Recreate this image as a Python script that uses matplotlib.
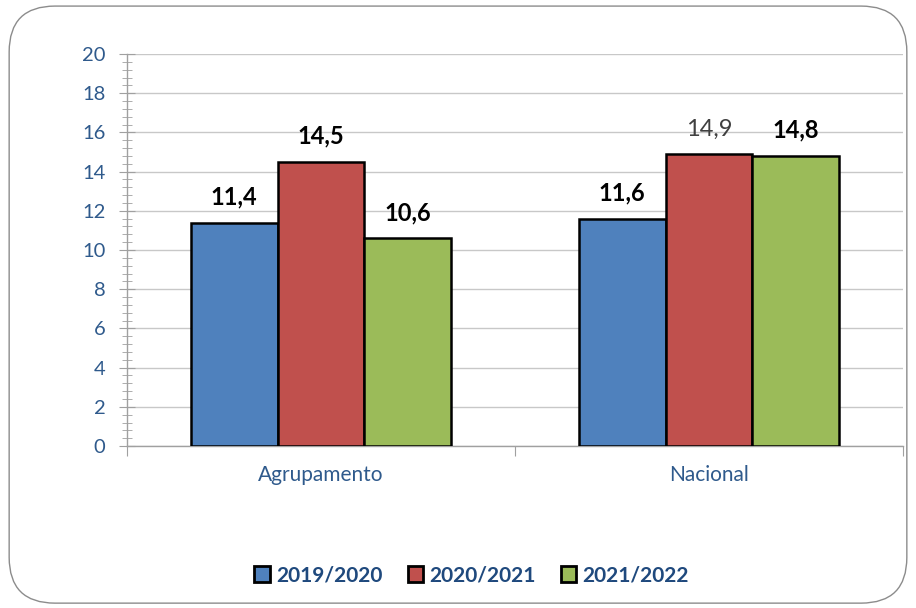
import matplotlib.pyplot as plt
import numpy as np
from matplotlib.patches import FancyBboxPatch
from matplotlib.ticker import MultipleLocator, FixedLocator

plt.rcParams["font.family"] = ["Lato", "DejaVu Sans"]

categories = ["Agrupamento", "Nacional"]
seasons = ["2019/2020", "2020/2021", "2021/2022"]
values = {
    "2019/2020": [11.4, 11.6],
    "2020/2021": [14.5, 14.9],
    "2021/2022": [10.6, 14.8],
}
colors = ["#4F81BD", "#C0504D", "#9BBB59"]

# 14,9 is drawn in the default (non-bold, grey) label style
plain_labels = {("2020/2021", 1)}

TICK_BLUE = "#2F5A8C"
LEGEND_BLUE = "#1F497D"

fig = plt.figure(figsize=(9.16, 6.08), dpi=100)
ax = fig.add_axes([0.1387, 0.2664, 0.9858 - 0.1387, 0.9112 - 0.2664])

# rounded outer frame
frame = FancyBboxPatch((0.010, 0.008), 0.980, 0.982,
                       boxstyle="round,pad=0,rounding_size=0.05",
                       transform=fig.transFigure, fill=False,
                       edgecolor="#8C8C8C", linewidth=1.0, zorder=-1,
                       mutation_aspect=916 / 608)
fig.patches.append(frame)

width = 0.224
x = np.arange(len(categories))
handles = []
for i, (season, color) in enumerate(zip(seasons, colors)):
    pos = x + (i - 1) * width
    bars = ax.bar(pos, values[season], width=width, color=color,
                  edgecolor="black", linewidth=1.8, zorder=3, label=season)
    handles.append(bars)
    for j, (px, v) in enumerate(zip(pos, values[season])):
        label = f"{v:.1f}".replace(".", ",")
        if (season, j) in plain_labels:
            style = dict(color="#404040")
        else:
            style = dict(color="black", fontweight="bold")
        ax.annotate(label, (px, v), xytext=(0, 13), textcoords="offset points",
                    ha="center", va="baseline", fontsize=17, **style)

ax.set_xlim(-0.5, 1.5)
ax.set_ylim(0, 20)
ax.yaxis.set_major_locator(MultipleLocator(2))
ax.yaxis.set_minor_locator(MultipleLocator(0.4))
ax.grid(axis="y", color="#C8C8C8", linewidth=1.0, zorder=0)

for side in ("top", "right"):
    ax.spines[side].set_visible(False)
for side in ("left", "bottom"):
    ax.spines[side].set_color("#A0A0A0")
    ax.spines[side].set_linewidth(1.0)

ax.tick_params(axis="y", which="major", direction="inout", length=11,
               color="#A0A0A0", labelsize=14.5, labelcolor=TICK_BLUE, pad=10)
ax.tick_params(axis="y", which="minor", direction="inout", length=7,
               color="#A0A0A0")

# category boundary ticks, category names as minor labels
ax.xaxis.set_major_locator(FixedLocator([-0.5, 0.5, 1.5]))
ax.xaxis.set_major_formatter(plt.NullFormatter())
ax.xaxis.set_minor_locator(FixedLocator(x))
ax.set_xticklabels(categories, minor=True)
ax.tick_params(axis="x", which="major", direction="out", length=7,
               color="#A0A0A0")
ax.tick_params(axis="x", which="minor", length=0, labelsize=15,
               labelcolor=TICK_BLUE, pad=14)

leg = fig.legend(handles=handles, labels=seasons, loc="center",
                 bbox_to_anchor=(0.515, 0.054), ncol=3, frameon=False,
                 handlelength=0.75, handleheight=0.75, handletextpad=0.3,
                 columnspacing=1.2,
                 prop={"size": 15, "weight": "bold"})
for t in leg.get_texts():
    t.set_color(LEGEND_BLUE)
for h in leg.legend_handles:
    h.set_linewidth(2.0)

fig.savefig("out.png", dpi=100)
